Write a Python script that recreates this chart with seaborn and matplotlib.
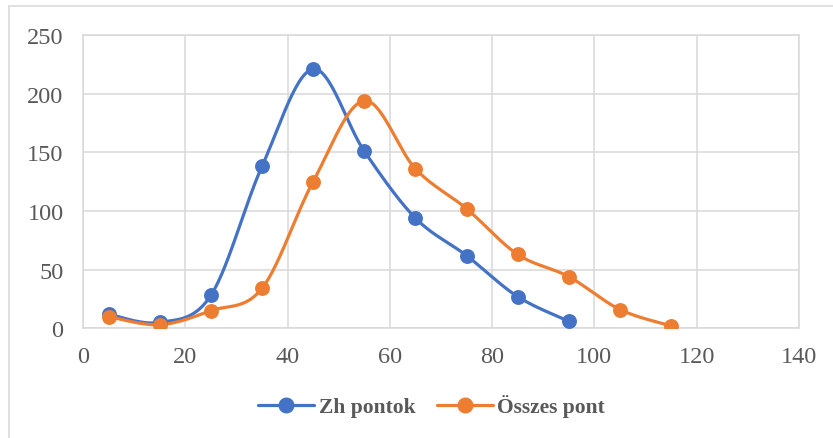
import numpy as np
import pandas as pd
import matplotlib
matplotlib.use("Agg")
import matplotlib.pyplot as plt
import seaborn as sns
from matplotlib.lines import Line2D

# Score bins (midpoints) and counts for each series
zh_x = [5, 15, 25, 35, 45, 55, 65, 75, 85, 95]
zh_y = [12, 5, 28, 138, 221, 151, 94, 62, 27, 6]
ossz_x = [5, 15, 25, 35, 45, 55, 65, 75, 85, 95, 105, 115]
ossz_y = [10, 3, 15, 34, 125, 194, 136, 102, 63, 44, 16, 2]

x_ticks = [0, 20, 40, 60, 80, 100, 120, 140]
y_ticks = [0, 50, 100, 150, 200, 250]

BLUE = "#4472C4"
ORANGE = "#ED7D31"
GRID = "#D9D9D9"
TEXT = "#595959"


def smooth(xs, ys, steps=30):
    """Bezier smoothing through every point (spreadsheet-style smoothed line)."""
    p = np.column_stack([xs, ys]).astype(float)
    n = len(p)
    out = []
    for i in range(n - 1):
        p0 = p[i - 1] if i > 0 else p[i]
        p1, p2 = p[i], p[i + 1]
        p3 = p[i + 2] if i + 2 < n else p[i + 1]
        c1 = p1 + (p2 - p0) / 6.0
        c2 = p2 - (p3 - p1) / 6.0
        t = np.linspace(0, 1, steps)[:, None]
        seg = ((1 - t) ** 3) * p1 + 3 * ((1 - t) ** 2) * t * c1 + 3 * (1 - t) * t ** 2 * c2 + t ** 3 * p2
        out.append(seg if i == 0 else seg[1:])
    s = np.vstack(out)
    return s[:, 0], s[:, 1]


sns.set_theme(style="white")
plt.rcParams["font.family"] = ["Liberation Serif", "DejaVu Serif"]

fig = plt.figure(figsize=(8.33, 4.39), dpi=100)
ax = fig.add_axes([0.0996, 0.2499, 0.8595, 0.668])

series = [("Zh pontok", zh_x, zh_y, BLUE), ("Összes pont", ossz_x, ossz_y, ORANGE)]
for name, xs, ys, col in series:
    sx, sy = smooth(xs, ys)
    ax.plot(sx, sy, color=col, lw=2.3, solid_capstyle="round", zorder=3)
    df = pd.DataFrame({"x": xs, "y": ys})
    sns.scatterplot(data=df, x="x", y="y", ax=ax, color=col, s=115,
                    edgecolor=col, linewidth=0, zorder=4, legend=False)

ax.set_xlim(0, 140)
ax.set_ylim(0, 250)
ax.set_xticks(x_ticks)
ax.set_yticks(y_ticks)
ax.set_xlabel("")
ax.set_ylabel("")
ax.grid(True, color=GRID, lw=1.1)
ax.set_axisbelow(True)
for sp in ax.spines.values():
    sp.set_visible(True)
    sp.set_color(GRID)
    sp.set_linewidth(1.1)
ax.tick_params(axis="both", length=0, labelsize=17.5, colors=TEXT)
ax.tick_params(axis="y", pad=14)
ax.tick_params(axis="x", pad=13)

handles = [Line2D([0], [0], color=c, lw=2.3, marker="o", markersize=10.5) for _, _, _, c in series]
leg = fig.legend(handles, [s[0] for s in series], loc="center", bbox_to_anchor=(0.518, 0.073),
                 ncol=2, frameon=False, handlelength=2.6, columnspacing=1.0, handletextpad=0.2,
                 prop={"weight": "bold", "size": 15.5})
for t in leg.get_texts():
    t.set_color(TEXT)

# Light outer chart frame
fig.add_artist(Line2D([0.0108, 1.0], [0.984, 0.984], transform=fig.transFigure, color=GRID, lw=1.1))
fig.add_artist(Line2D([0.0108, 0.0108], [0.0, 0.984], transform=fig.transFigure, color=GRID, lw=1.1))

fig.savefig("out.png", dpi=100)
